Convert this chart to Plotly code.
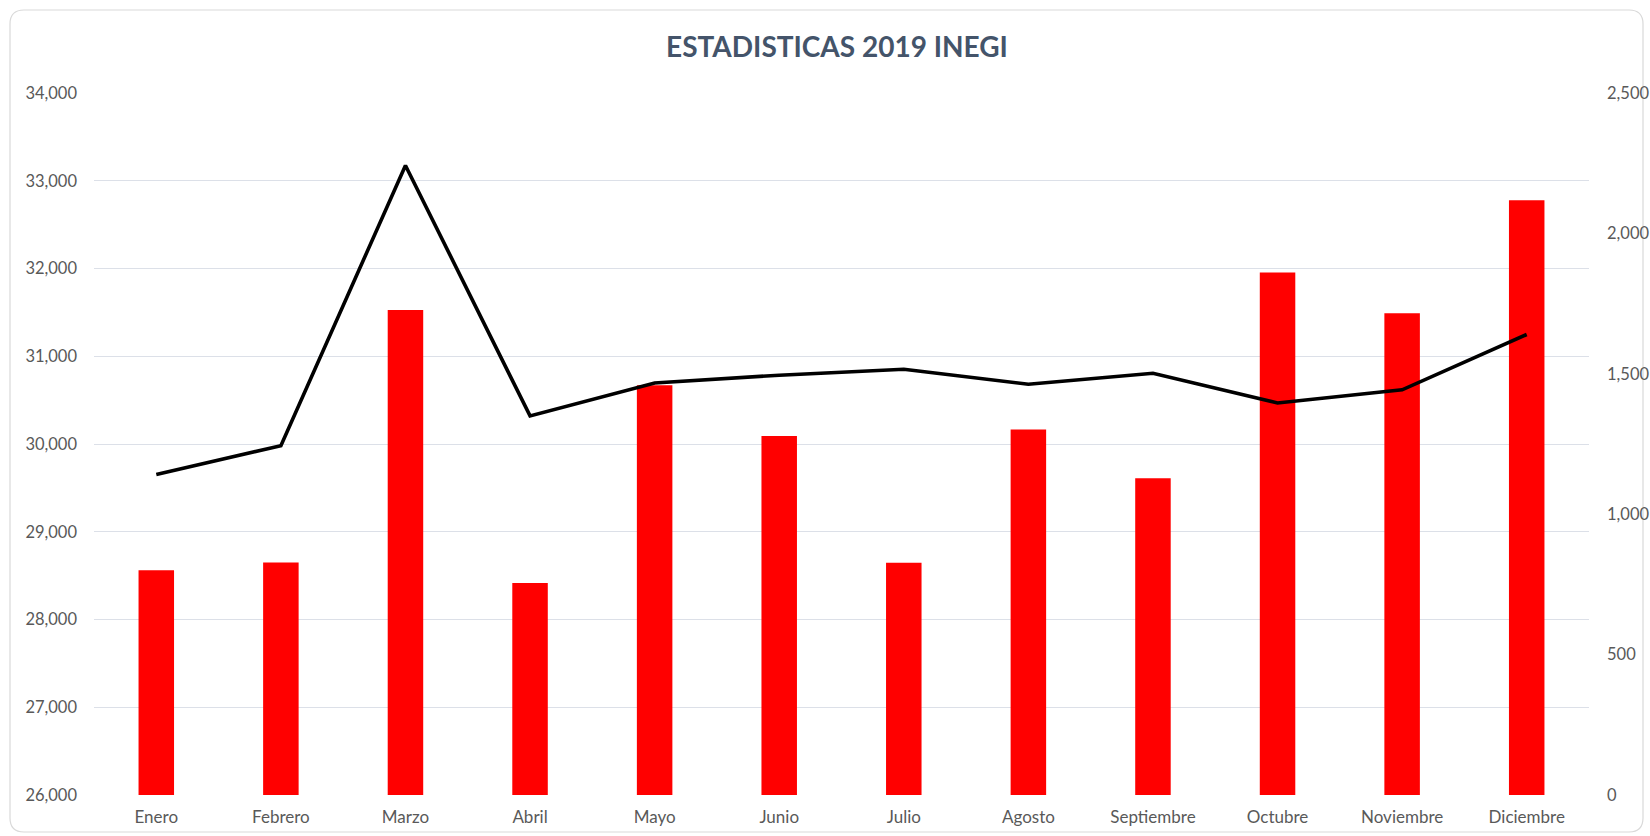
import plotly.graph_objects as go

months = ["Enero", "Febrero", "Marzo", "Abril", "Mayo", "Junio", "Julio",
          "Agosto", "Septiembre", "Octubre", "Noviembre", "Diciembre"]
bar_values = [28560, 28650, 31528, 28416, 30670, 30092, 28646, 30165,
              29611, 31953, 31489, 32777]
line_values = [1141, 1244, 2242, 1350, 1467, 1495, 1516, 1463, 1502,
               1396, 1443, 1640]
left_ticks = [26000, 27000, 28000, 29000, 30000, 31000, 32000, 33000, 34000]
right_ticks = [0, 500, 1000, 1500, 2000, 2500]

W, H = 1650, 836
ML, MR, MT, MB = 94, 61, 93, 41
PW = W - ML - MR
PH = H - MT - MB

FONT = "Lato"
TICK_COLOR = "#595959"

fig = go.Figure()
fig.add_trace(go.Bar(x=months, y=bar_values, marker=dict(color="#FF0000", line=dict(width=0)),
                     yaxis="y", name="Barras"))
fig.add_trace(go.Scatter(x=months, y=line_values, mode="lines",
                         line=dict(color="#000000", width=3.6),
                         yaxis="y2", name="Línea"))

def px_x(p):
    return (p - ML) / PW

def px_y(p):
    return (H - MB - p) / PH

# rounded card border
x0, x1, y0, y1, r = 10, 1643, 10, 832, 14
path = (
    f"M {px_x(x0 + r)},{px_y(y0)} L {px_x(x1 - r)},{px_y(y0)} "
    f"Q {px_x(x1)},{px_y(y0)} {px_x(x1)},{px_y(y0 + r)} "
    f"L {px_x(x1)},{px_y(y1 - r)} Q {px_x(x1)},{px_y(y1)} {px_x(x1 - r)},{px_y(y1)} "
    f"L {px_x(x0 + r)},{px_y(y1)} Q {px_x(x0)},{px_y(y1)} {px_x(x0)},{px_y(y1 - r)} "
    f"L {px_x(x0)},{px_y(y0 + r)} Q {px_x(x0)},{px_y(y0)} {px_x(x0 + r)},{px_y(y0)} Z"
)

fig.update_layout(
    width=W, height=H,
    margin=dict(l=ML, r=MR, t=MT, b=MB),
    paper_bgcolor="white", plot_bgcolor="white",
    showlegend=False,
    bargap=0.715,
    title=dict(text="<b>ESTADISTICAS 2019 INEGI</b>", x=837 / W, xanchor="center",
               y=1 - 47 / H, yanchor="middle",
               font=dict(family=FONT, size=28, color="#44546A")),
    font=dict(family=FONT, size=16, color=TICK_COLOR),
    xaxis=dict(showgrid=False, showline=False, ticks="", zeroline=False,
               automargin=False,
               tickfont=dict(family=FONT, size=17, color=TICK_COLOR),
               ticklabelstandoff=10),
    yaxis=dict(range=[26000, 34000], tickvals=left_ticks, tickformat=",",
               showgrid=True, gridcolor="#DCE0E8", gridwidth=1.4,
               zeroline=False, showline=False, ticks="", automargin=False,
               tickfont=dict(family=FONT, size=16.5, color=TICK_COLOR),
               ticklabelstandoff=16),
    yaxis2=dict(range=[0, 2500], tickvals=right_ticks, tickformat=",",
                overlaying="y", side="right", showgrid=False,
                zeroline=False, showline=False, ticks="", automargin=False,
                tickfont=dict(family=FONT, size=16.5, color=TICK_COLOR),
                ticklabelstandoff=17),
    shapes=[dict(type="path", path=path, xref="paper", yref="paper",
                 line=dict(color="#D9D9D9", width=1.2), layer="below")],
)

fig.write_html("out.html", config={"displayModeBar": False},
               post_script="document.body.style.margin='0';document.body.style.overflow='hidden';")
